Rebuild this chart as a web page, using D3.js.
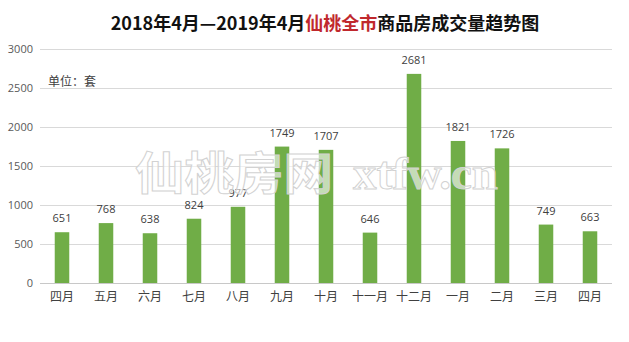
<!DOCTYPE html>
<html>
<head>
<meta charset="utf-8">
<script src="https://cdn.jsdelivr.net/npm/d3@7"></script>
<style>
  html, body { margin: 0; padding: 0; background: #fff; }
  svg { display: block; }
</style>
</head>
<body>
<svg id="chart" width="629" height="342"></svg>
<script>
// Monthly housing transactions, April 2018 – April 2019
const months = ["四月", "五月", "六月", "七月", "八月", "九月", "十月", "十一月", "十二月", "一月", "二月", "三月", "四月"];
const sales = [651, 768, 638, 824, 977, 1749, 1707, 646, 2681, 1821, 1726, 749, 663];
const yTicks = [0, 500, 1000, 1500, 2000, 2500, 3000];

const W = 629, H = 342;
const margin = { left: 40, right: 17, top: 49, bottom: 59 };
const svg = d3.select("#chart");
const cjk = "'Noto Sans CJK SC', 'Microsoft YaHei', sans-serif";

const keys = months.map((m, i) => i);
const x = d3.scaleBand().domain(keys).range([margin.left, W - margin.right]).paddingInner(0.67).paddingOuter(0.335);
const y = d3.scaleLinear().domain([0, 3000]).range([H - margin.bottom, margin.top]);

// Title with the city name highlighted
const title = svg.append("text")
  .attr("x", 325).attr("y", 30)
  .attr("text-anchor", "middle")
  .attr("font-family", cjk)
  .attr("font-weight", "bold")
  .attr("font-size", 18)
  .attr("fill", "#111");
title.append("tspan").text("2018年4月—2019年4月");
title.append("tspan").attr("fill", "#c0282d").text("仙桃全市");
title.append("tspan").text("商品房成交量趋势图");

// Horizontal gridlines
const yAxis = d3.axisLeft(y).tickValues(yTicks).tickFormat(d3.format("d"))
  .tickSize(-(W - margin.left - margin.right)).tickPadding(7);
const gy = svg.append("g").attr("transform", `translate(${margin.left},0)`).call(yAxis);
gy.select(".domain").remove();
gy.selectAll(".tick line").attr("stroke", "#d9d9d9").attr("stroke-width", 1);
gy.selectAll(".tick text")
  .attr("fill", "#595959")
  .attr("font-family", "'Open Sans', 'Noto Sans', sans-serif")
  .attr("font-size", 11);
gy.selectAll(".tick").filter(d => d === 0).select("line").attr("stroke", "#c8c8c8");

// Unit label
svg.append("text")
  .attr("x", 48).attr("y", 86)
  .attr("font-family", cjk)
  .attr("font-size", 12)
  .attr("fill", "#404040")
  .text("单位：套");

// Bars
svg.append("g").selectAll("rect")
  .data(sales)
  .join("rect")
  .attr("x", (d, i) => x(i))
  .attr("width", x.bandwidth())
  .attr("y", d => y(d))
  .attr("height", d => y(0) - y(d))
  .attr("fill", "#70ad47");

// Value labels
svg.append("g").selectAll("text")
  .data(sales)
  .join("text")
  .attr("x", (d, i) => x(i) + x.bandwidth() / 2)
  .attr("y", d => y(d) - 10)
  .attr("text-anchor", "middle")
  .attr("font-family", "'Open Sans', 'Noto Sans', sans-serif")
  .attr("font-size", 11)
  .attr("fill", "#404040")
  .text(d => d);

// Category axis
const xAxis = d3.axisBottom(x).tickFormat(i => months[i]).tickSize(0).tickPadding(9);
const gx = svg.append("g").attr("transform", `translate(0,${y(0)})`).call(xAxis);
gx.select(".domain").remove();
gx.selectAll(".tick text")
  .attr("fill", "#404040")
  .attr("font-family", cjk)
  .attr("font-size", 12);

// Site watermark (hollow lettering)
const wm = svg.append("g")
  .attr("fill", "rgba(255,255,255,0.6)")
  .attr("stroke", "#d2d2d2")
  .attr("stroke-width", 1);
wm.append("text")
  .attr("x", 135).attr("y", 190)
  .attr("font-family", cjk)
  .attr("font-weight", "bold")
  .attr("font-size", 45)
  .attr("textLength", 198)
  .attr("lengthAdjust", "spacingAndGlyphs")
  .text("仙桃房网");
wm.append("text")
  .attr("x", 353).attr("y", 189)
  .attr("font-family", "'Liberation Serif', serif")
  .attr("font-weight", "bold")
  .attr("font-size", 47)
  .attr("textLength", 145)
  .attr("lengthAdjust", "spacingAndGlyphs")
  .text("xtfw.cn");
</script>
</body>
</html>
